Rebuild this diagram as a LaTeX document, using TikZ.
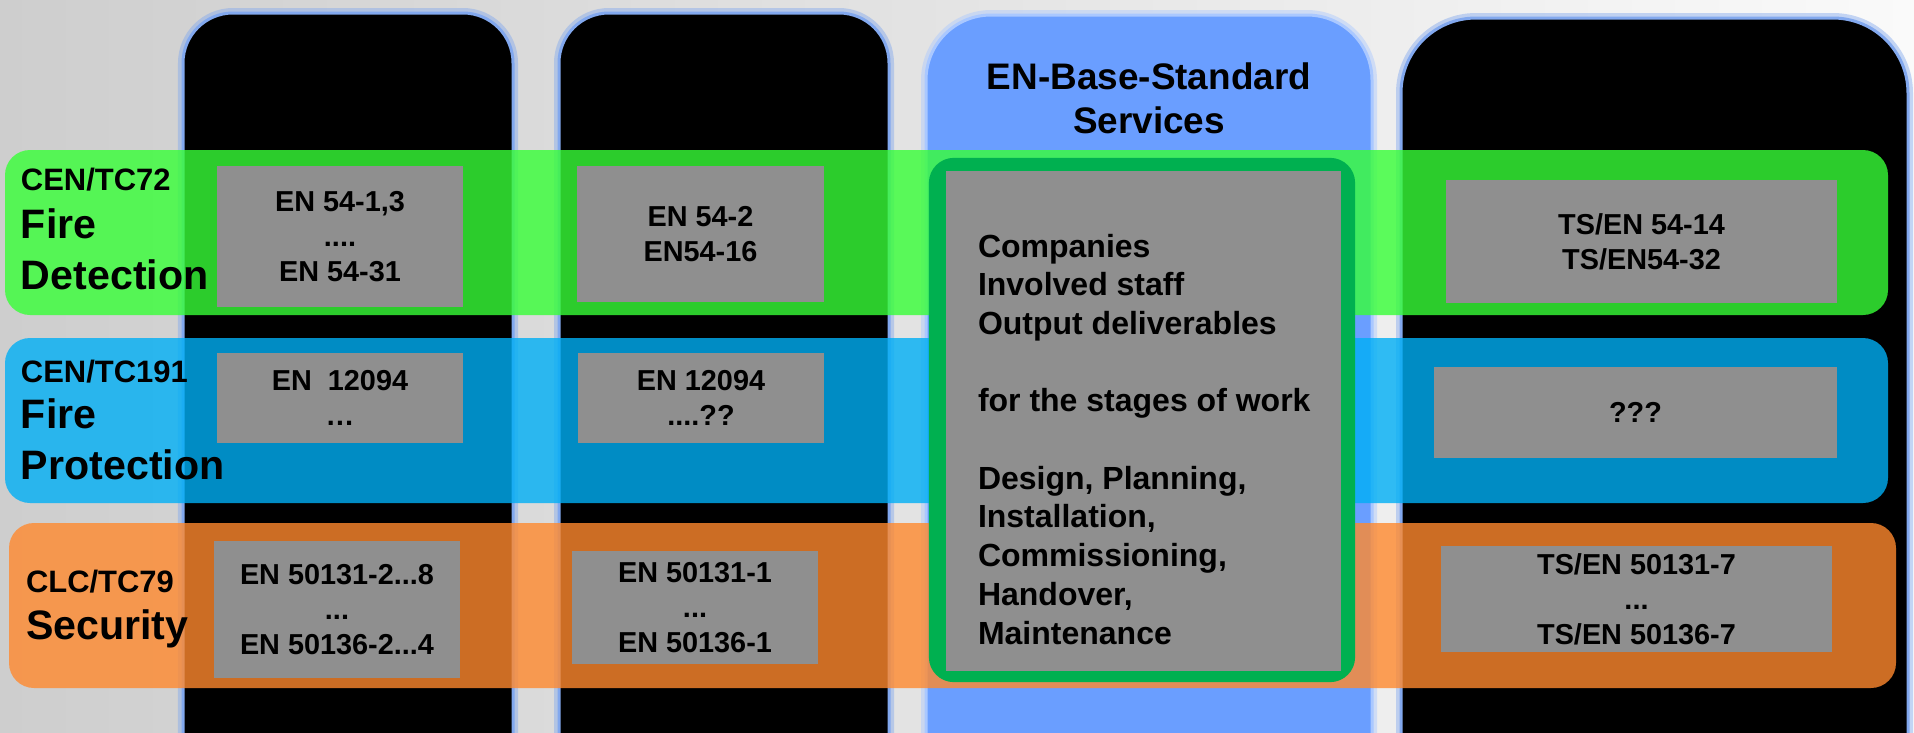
\documentclass[tikz,border=0pt]{standalone}
\usepackage{fontspec}
\setmainfont{Liberation Sans}
\usetikzlibrary{positioning}
\definecolor{bandgreen}{RGB}{55,255,55}
\definecolor{bandblue}{RGB}{0,175,245}
\definecolor{bandorange}{RGB}{255,137,46}
\definecolor{boxgray}{RGB}{143,143,143}
\definecolor{colblue}{RGB}{106,158,255}
\definecolor{glow}{RGB}{130,168,238}
\definecolor{glowlight}{RGB}{170,200,255}
\definecolor{svcgreen}{RGB}{0,176,80}
\definecolor{bgleft}{RGB}{206,206,206}
\definecolor{bgright}{RGB}{250,250,250}

\begin{document}
\begin{tikzpicture}[x=0.01cm,y=-0.01cm,
    every node/.style={inner sep=0pt,outer sep=0pt},
    halo/.style={line width=0.1cm,draw opacity=0.45},
    col/.style={line width=0.03cm},
    band/.style={rounded corners=0.25cm,fill opacity=0.8},
    grybox/.style={fill=boxgray,align=center,font=\fontsize{8.2}{9.96}\selectfont\bfseries},
    lbl/.style={anchor=base west,font=\fontsize{8.8}{10.5}\selectfont\bfseries},
    biglbl/.style={anchor=north west,align=left,font=\fontsize{11.7}{14.5}\selectfont\bfseries},
  ]
	\useasboundingbox (0,0) rectangle (1914,733);
	\clip (0,0) rectangle (1914,733);
	% background
	\shade[left color=bgleft,right color=bgright] (0,0) rectangle (1914,733);

	% columns
	\draw[halo,draw=glow,rounded corners=0.5cm] (183,760) -- (183,13) -- (513,13) -- (513,760);
	\draw[col,draw=glow,fill=black,rounded corners=0.5cm] (183,760) -- (183,13) -- (513,13) -- (513,760);
	\draw[halo,draw=glow,rounded corners=0.5cm] (559,760) -- (559,13) -- (889,13) -- (889,760);
	\draw[col,draw=glow,fill=black,rounded corners=0.5cm] (559,760) -- (559,13) -- (889,13) -- (889,760);
	\draw[halo,draw=glowlight,rounded corners=0.65cm] (926,760) -- (926,15) -- (1372,15) -- (1372,760);
	\draw[col,draw=glowlight,fill=colblue,rounded corners=0.65cm] (926,760) -- (926,15) -- (1372,15) -- (1372,760);
	\draw[halo,draw=glow,rounded corners=0.75cm] (1401,760) -- (1401,18) -- (1908,18) -- (1908,760);
	\draw[col,draw=glow,fill=black,rounded corners=0.75cm] (1401,760) -- (1401,18) -- (1908,18) -- (1908,760);

	% rows
	\fill[band,bandgreen] (5,150) rectangle (1888,315);
	\fill[band,bandblue] (5,338) rectangle (1888,503);
	\fill[band,bandorange] (9,523) rectangle (1896,688);

	% create the nodes
	\node (d1) [grybox,minimum width=2.46cm,minimum height=1.41cm] at (340,236.5) {EN 54-1,3\\....\\EN 54-31};
	\node (d2) [grybox,minimum width=2.47cm,minimum height=1.36cm] at (700.5,234) {EN 54-2\\EN54-16};
	\node (d4) [grybox,minimum width=3.91cm,minimum height=1.23cm] at (1641.5,241.5) {TS/EN 54-14\\TS/EN54-32};
	\node (p1) [grybox,minimum width=2.46cm,minimum height=0.90cm] at (340,398) {EN\ \ 12094\\…};
	\node (p2) [grybox,minimum width=2.46cm,minimum height=0.90cm] at (701,398) {EN 12094\\....??};
	\node (p4) [grybox,minimum width=4.03cm,minimum height=0.91cm] at (1635.5,412.5) {???};
	\node (s1) [grybox,minimum width=2.46cm,minimum height=1.37cm] at (337,609.5) {EN 50131-2...8\\...\\EN 50136-2...4};
	\node (s2) [grybox,minimum width=2.46cm,minimum height=1.13cm] at (695,607.5) {EN 50131-1\\...\\EN 50136-1};
	\node (s4) [grybox,minimum width=3.91cm,minimum height=1.06cm] at (1636.5,599) {TS/EN 50131-7\\...\\TS/EN 50136-7};

	% base standard services
	\node (hdr) [align=center,font=\fontsize{10.5}{12.5}\selectfont\bfseries] at (1149,98) {EN-Base-Standard\\Services};
	\node (svc) [fill=svcgreen,rounded corners=0.25cm,minimum width=4.26cm,minimum height=5.24cm] at (1142,420) {};
	\node (svcin) [fill=boxgray,minimum width=3.95cm,minimum height=5.0cm] at (1143.5,421) {};
	\node (svctxt) [anchor=north west,align=left,font=\fontsize{9.1}{11}\selectfont\bfseries] at (978,234) {Companies\\Involved staff\\Output deliverables\\[11pt]for the stages of work\\[11pt]Design, Planning,\\Installation,\\Commissioning,\\Handover,\\Maintenance};

	% committees
	\node (tc72) [lbl] at (21,190) {CEN/TC72};
	\node (fd) [biglbl] at (21,209) {Fire\\Detection};
	\node (tc191) [lbl] at (21,382) {CEN/TC191};
	\node (fp) [biglbl] at (21,399) {Fire\\Protection};
	\node (tc79) [lbl] at (26,592) {CLC/TC79};
	\node (sec) [biglbl] at (26,610) {Security};
\end{tikzpicture}
\end{document}
